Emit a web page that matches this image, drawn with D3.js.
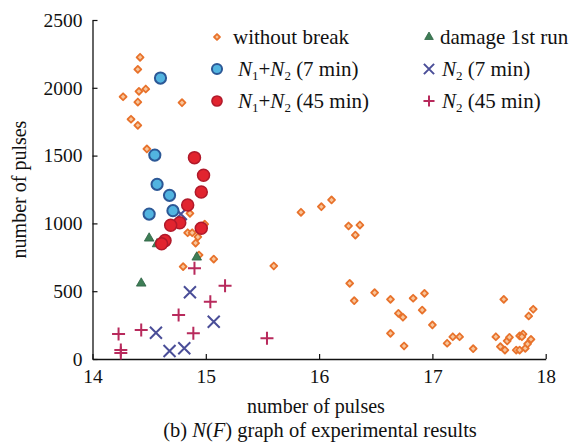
<!DOCTYPE html>
<html>
<head>
<meta charset="utf-8">
<script src="https://cdn.jsdelivr.net/npm/d3@7"></script>
<style>
  html, body { margin: 0; padding: 0; background: #fff; }
  svg text { font-family: "Liberation Serif", "Times New Roman", serif; fill: #111; }
</style>
</head>
<body>
<svg id="chart" width="578" height="443"></svg>
<script>
// Axis ticks
const xTicks = [14, 15, 16, 17, 18];
const yTicks = [0, 500, 1000, 1500, 2000, 2500];

// without break
const withoutBreakX = [14.42, 14.40, 14.47, 14.41, 14.27, 14.40, 14.79, 14.34, 14.40, 14.48,
  14.86, 14.84, 14.88, 14.99, 14.93, 14.91, 14.94, 15.07, 14.80,
  16.11, 16.02, 15.84, 16.26, 16.36, 16.32, 15.60, 16.27, 16.31,
  16.49, 16.63, 16.83, 16.93, 16.70, 16.74, 16.91, 16.63, 17.00, 16.75, 17.13, 17.18, 17.24, 17.36,
  17.63, 17.56, 17.60, 17.64, 17.66, 17.68, 17.74, 17.77, 17.82, 17.77, 17.80, 17.79, 17.84, 17.87, 17.85, 17.89];
const withoutBreakY = [2225, 2136, 1991, 1974, 1934, 1895, 1890, 1768, 1723, 1549,
  1074, 931, 931, 995, 900, 855, 767, 737, 681,
  1173, 1123, 1082, 981, 988, 914, 686, 558, 430,
  489, 440, 448, 484, 337, 308, 361, 189, 251, 96, 116, 164, 164, 76,
  440, 164, 91, 66, 133, 160, 66, 66, 79, 170, 184, 164, 111, 145, 317, 367];

// damage 1st run
const damageX = [14.50, 14.57, 14.92, 14.43];
const damageY = [890, 848, 750, 558];

// N1+N2 (7 min)
const sum7X = [14.60, 14.55, 14.57, 14.68, 14.50, 14.71];
const sum7Y = [2072, 1504, 1288, 1207, 1069, 1094];

// N1+N2 (45 min)
const sum45X = [14.90, 14.98, 14.96, 14.84, 14.77, 14.69, 14.96, 14.64, 14.61];
const sum45Y = [1485, 1355, 1232, 1136, 1005, 986, 964, 873, 850];

// N2 (7 min)
const n2s7X = [14.78, 14.86, 15.07, 14.56, 14.68, 14.81];
const n2s7Y = [1069, 492, 275, 194, 59, 79];

// N2 (45 min)
const n2s45X = [14.90, 15.17, 15.04, 14.76, 14.43, 14.23, 14.89, 14.25, 14.25, 15.54];
const n2s45Y = [669, 541, 423, 324, 214, 184, 189, 66, 45, 153];

const svg = d3.select("#chart");
const x = d3.scaleLinear().domain([14, 18]).range([92.5, 545.7]);
const y = d3.scaleLinear().domain([0, 2500]).range([359, 20]);

// Axes with inward ticks
const xAxis = svg.append("g").attr("transform", `translate(0,${y(0)})`)
  .call(d3.axisBottom(x).tickValues(xTicks).tickSizeInner(-5).tickSizeOuter(0).tickPadding(10).tickFormat(d3.format("d")));
const yAxis = svg.append("g").attr("transform", `translate(${x(14)},0)`)
  .call(d3.axisLeft(y).tickValues(yTicks).tickSizeInner(-5).tickSizeOuter(0).tickPadding(10).tickFormat(d3.format("d")));
[xAxis, yAxis].forEach(g => {
  g.selectAll("path.domain").attr("stroke", "#111").attr("stroke-width", 1.3);
  g.selectAll(".tick line").attr("stroke", "#111").attr("stroke-width", 1.2);
  g.selectAll(".tick text").attr("font-size", 19.5).attr("fill", "#111")
    .style("font-family", "'Liberation Serif', serif");
});

// Marker renderers
const sym = {
  diamond(g, cx, cy, s = 1) {
    g.append("path").attr("d", d3.symbol(d3.symbolSquare, 24 * s * s)())
      .attr("transform", `translate(${cx},${cy}) rotate(45)`)
      .attr("fill", "#f8c59a").attr("stroke", "#e8722b").attr("stroke-width", 1.8)
      .attr("stroke-linejoin", "round");
  },
  tri(g, cx, cy, s = 1) {
    g.append("path").attr("d", d3.symbol(d3.symbolTriangle, 40 * s * s)())
      .attr("transform", `translate(${cx},${cy})`)
      .attr("fill", "#3e7d55").attr("stroke", "#2c6244").attr("stroke-width", 0.8);
  },
  blue(g, cx, cy, s = 1) {
    g.append("circle").attr("cx", cx).attr("cy", cy).attr("r", 5.6 * s)
      .attr("fill", "#52b4e0").attr("stroke", "#2c5896").attr("stroke-width", 2);
  },
  red(g, cx, cy, s = 1) {
    g.append("circle").attr("cx", cx).attr("cy", cy).attr("r", 6 * s)
      .attr("fill", "#e1242f").attr("stroke", "#b0192a").attr("stroke-width", 1.5);
  },
  cross(g, cx, cy, s = 1) {
    const h = 6 * s;
    g.append("path").attr("d", `M${cx - h},${cy - h}L${cx + h},${cy + h}M${cx - h},${cy + h}L${cx + h},${cy - h}`)
      .attr("stroke", "#4a4e98").attr("stroke-width", 2).attr("fill", "none");
  },
  plus(g, cx, cy, s = 1) {
    const h = 6.5 * s;
    g.append("path").attr("d", `M${cx - h},${cy}L${cx + h},${cy}M${cx},${cy - h}L${cx},${cy + h}`)
      .attr("stroke", "#b82a5c").attr("stroke-width", 2).attr("fill", "none");
  }
};

const plot = svg.append("g");
function drawSeries(xs, ys, kind) {
  const g = plot.append("g");
  xs.forEach((v, i) => sym[kind](g, x(v), y(ys[i])));
}
drawSeries(withoutBreakX, withoutBreakY, "diamond");
drawSeries(n2s7X, n2s7Y, "cross");
drawSeries(n2s45X, n2s45Y, "plus");
drawSeries(damageX, damageY, "tri");
drawSeries(sum7X, sum7Y, "blue");
drawSeries(sum45X, sum45Y, "red");

// Legend
const legend = svg.append("g");
const legendItems = [
  { kind: "diamond", ms: 0.85, mx: 217, tx: 233, cy: 37, label: [["without break"]] },
  { kind: "blue", ms: 0.9, mx: 217, tx: 238, cy: 69, label: [["N", "i"], ["1", "sub"], ["+"], ["N", "i"], ["2", "sub"], [" (7 min)"]] },
  { kind: "red", ms: 0.85, mx: 217, tx: 238, cy: 101, label: [["N", "i"], ["1", "sub"], ["+"], ["N", "i"], ["2", "sub"], [" (45 min)"]] },
  { kind: "tri", ms: 0.9, mx: 429, tx: 440, cy: 37, label: [["damage 1st run"]] },
  { kind: "cross", ms: 0.85, mx: 429, tx: 442, cy: 69, label: [["N", "i"], ["2", "sub"], [" (7 min)"]] },
  { kind: "plus", ms: 0.85, mx: 429, tx: 442, cy: 101, label: [["N", "i"], ["2", "sub"], [" (45 min)"]] }
];
legendItems.forEach(it => {
  sym[it.kind](legend, it.mx, it.cy, it.ms);
  const t = legend.append("text").attr("x", it.tx).attr("y", it.cy + 7).attr("font-size", 21);
  let lowered = false;
  it.label.forEach(([s, style]) => {
    const ts = t.append("tspan").text(s);
    if (style === "i") ts.attr("font-style", "italic");
    if (style === "sub") { ts.attr("font-size", 13).attr("dy", 4); lowered = true; }
    else if (lowered) { ts.attr("dy", -4); lowered = false; }
  });
});

// Axis titles
svg.append("text").attr("x", 316).attr("y", 413).attr("text-anchor", "middle")
  .attr("font-size", 20).text("number of pulses");
svg.append("text").attr("transform", `translate(26,${(y(0) + y(2500)) / 2}) rotate(-90)`)
  .attr("text-anchor", "middle").attr("font-size", 20).text("number of pulses");

// Caption
const cap = svg.append("text").attr("x", 320).attr("y", 437).attr("text-anchor", "middle").attr("font-size", 20.5);
cap.append("tspan").text("(b) ");
cap.append("tspan").attr("font-style", "italic").text("N");
cap.append("tspan").text("(");
cap.append("tspan").attr("font-style", "italic").text("F");
cap.append("tspan").text(") graph of experimental results");
</script>
</body>
</html>
